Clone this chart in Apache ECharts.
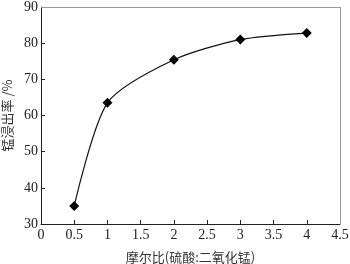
<!DOCTYPE html>
<html>
<head>
<meta charset="utf-8">
<script src="https://cdn.jsdelivr.net/npm/echarts@6/dist/echarts.min.js"></script>
<style>
  html, body { margin: 0; padding: 0; background: #fff; }
  #chart { width: 350px; height: 264px; }
</style>
</head>
<body>
<div id="chart"></div>
<script>
// 摩尔比 vs 锰浸出率
const ratios = [0.5, 1, 2, 3, 4];
const leachRate = [35, 63.5, 75.4, 81, 82.8];

const font = "Liberation Serif";
const cjkFont = "Noto Sans CJK SC";

const myChart = echarts.init(document.getElementById("chart"));
const option = {
  animation: false,
  grid: { left: 41, right: 10, top: 7, bottom: 40, outerBoundsMode: "none", containLabel: false },
  xAxis: {
    type: "value",
    min: 0,
    max: 4.5,
    interval: 0.5,
    name: "摩尔比(硫酸:二氧化锰)",
    nameLocation: "middle",
    nameGap: 27,
    nameTextStyle: { fontFamily: cjkFont, fontSize: 13, color: "#333" },
    axisLine: { lineStyle: { color: "#222", width: 1 } },
    axisTick: { inside: true, length: 4, lineStyle: { color: "#222" } },
    axisLabel: { fontFamily: font, fontSize: 14, color: "#222", margin: 4 },
    splitLine: { show: false },
  },
  yAxis: {
    type: "value",
    min: 30,
    max: 90,
    interval: 10,
    name: "锰浸出率 /%",
    nameLocation: "middle",
    nameGap: 26,
    nameRotate: 90,
    nameTextStyle: { fontFamily: cjkFont, fontSize: 13, color: "#333" },
    axisLine: { show: true, lineStyle: { color: "#222", width: 1 } },
    axisTick: { inside: true, length: 4, lineStyle: { color: "#222" } },
    axisLabel: { fontFamily: font, fontSize: 14, color: "#222", margin: 3 },
    splitLine: { show: false },
  },
  series: [
    {
      type: "line",
      data: ratios.map((x, i) => [x, leachRate[i]]),
      smooth: 0.25,
      symbol: "diamond",
      symbolSize: 10,
      lineStyle: { color: "#111", width: 1.2 },
      itemStyle: { color: "#000" },
      z: 3,
    },
    {
      // 上/右边框
      type: "line",
      data: [],
      markLine: {
        silent: true,
        symbol: "none",
        label: { show: false },
        lineStyle: { color: "#999", width: 1, type: "solid" },
        data: [
          [{ coord: [0, 90] }, { coord: [4.5, 90] }],
          [{ coord: [4.5, 30] }, { coord: [4.5, 90] }],
        ],
      },
    },
  ],
};
myChart.setOption(option);
</script>
</body>
</html>
